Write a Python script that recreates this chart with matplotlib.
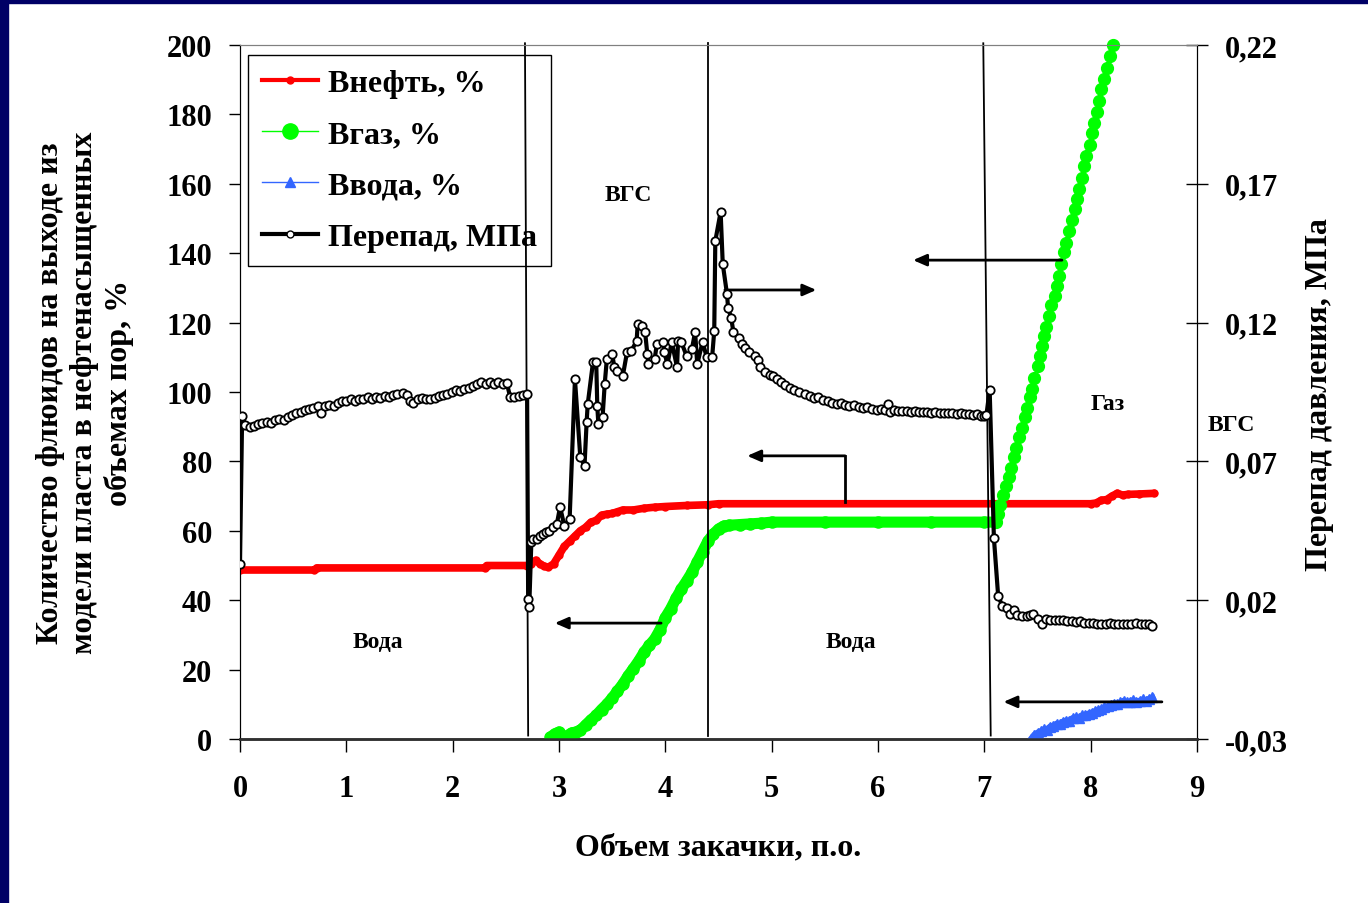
import numpy as np
import matplotlib
matplotlib.use('Agg')
import matplotlib.pyplot as plt
from matplotlib.lines import Line2D
from matplotlib.patches import Rectangle
from matplotlib.ticker import FuncFormatter

# ---------------------------------------------------------------------------
# Data
# ---------------------------------------------------------------------------

# oil recovery, % of pore volume
oil_x = [0.00, 0.70, 0.72, 2.30, 2.32, 2.70, 2.74, 2.78, 2.82, 2.86, 2.90, 2.95,
         3.00, 3.05, 3.10, 3.15, 3.20, 3.25, 3.30, 3.35, 3.40, 3.45, 3.50, 3.55,
         3.60, 3.70, 3.80, 3.90, 4.00, 4.20, 4.40, 4.50, 8.00, 8.05, 8.10, 8.15,
         8.20, 8.25, 8.30, 8.35, 8.45, 8.60]
oil_y = [48.7, 48.7, 49.3, 49.3, 50.0, 50.0, 50.5, 51.5, 50.5, 49.8, 49.5, 50.5,
         53.0, 55.5, 57.0, 58.5, 60.0, 61.0, 62.5, 63.0, 64.5, 64.8, 65.0, 65.5,
         66.0, 66.0, 66.5, 66.8, 67.0, 67.3, 67.5, 67.8, 67.8, 68.0, 68.8, 69.0,
         70.0, 70.8, 70.3, 70.5, 70.6, 70.8]

# gas recovery, first part (dense points, looks like a band)
gas_x = [2.92, 2.96, 3.00, 3.04, 3.08, 3.12, 3.16, 3.20, 3.25, 3.30, 3.35, 3.40,
         3.45, 3.50, 3.55, 3.60, 3.65, 3.70, 3.75, 3.80, 3.85, 3.90, 3.95, 4.00,
         4.05, 4.10, 4.15, 4.20, 4.25, 4.30, 4.35, 4.40, 4.45, 4.50, 4.55, 4.60,
         4.70, 4.80, 4.90, 5.00, 5.50, 6.00, 6.50, 7.00, 7.10]
gas_y = [0.5, 1.5, 2.0, 0.5, 1.0, 1.8, 2.0, 2.5, 4.0, 5.5, 6.8, 8.5,
         10.0, 11.8, 13.8, 15.8, 18.2, 20.3, 22.5, 25.0, 27.0, 28.8, 31.5, 35.0,
         37.5, 40.5, 43.2, 45.5, 48.0, 51.0, 54.0, 57.0, 59.0, 60.5, 61.4, 61.6,
         61.8, 62.0, 62.2, 62.5, 62.5, 62.5, 62.5, 62.5, 62.5]

# gas recovery, gas injection stage (separate dots)
gas2_x = [7.11, 7.13, 7.15, 7.18, 7.20, 7.23, 7.25, 7.28, 7.30, 7.33, 7.35, 7.38,
          7.40, 7.43, 7.45, 7.47, 7.50, 7.52, 7.54, 7.56, 7.58, 7.61, 7.63, 7.66,
          7.68, 7.70, 7.72, 7.75, 7.77, 7.80, 7.82, 7.85, 7.87, 7.89, 7.92, 7.94,
          7.96, 7.99, 8.01, 8.03, 8.06, 8.08, 8.10, 8.13, 8.15, 8.18, 8.21]
gas2_y = [62.5, 64.8, 67.5, 70.2, 72.8, 75.6, 78.0, 81.2, 84.0, 87.0, 89.6, 92.8,
          95.4, 98.5, 101.0, 104.0, 107.5, 110.5, 113.2, 116.0, 118.7, 122.0, 125.0, 127.8,
          130.5, 133.5, 136.8, 140.3, 143.0, 146.5, 149.5, 152.7, 155.5, 158.5, 161.8, 165.0,
          168.0, 171.2, 174.5, 177.5, 180.8, 184.0, 187.2, 190.2, 193.5, 196.8, 200.0]

# water recovery
water_x = [7.44, 7.47, 7.50, 7.53, 7.56, 7.59, 7.62, 7.65, 7.68, 7.71, 7.74, 7.77,
           7.80, 7.83, 7.86, 7.89, 7.92, 7.95, 7.98, 8.01, 8.04, 8.07, 8.10, 8.13,
           8.16, 8.19, 8.22, 8.25, 8.28, 8.31, 8.34, 8.37, 8.40, 8.43, 8.46, 8.49,
           8.52, 8.55, 8.58]
water_y = [0.0, 1.2, 1.8, 2.2, 2.8, 2.6, 3.6, 3.8, 4.4, 4.2, 5.0, 5.3,
           5.2, 6.0, 6.2, 6.0, 6.8, 7.0, 7.3, 7.6, 8.0, 8.4, 8.6, 9.2,
           9.4, 9.8, 10.2, 10.0, 10.6, 11.0, 10.6, 10.8, 11.2, 10.8, 11.0, 11.4,
           11.0, 11.6, 12.0]

# pressure drop, MPa
dp_x = [0.00, 0.02, 0.05, 0.09, 0.13, 0.17, 0.21, 0.25, 0.29, 0.33, 0.37, 0.41,
        0.45, 0.49, 0.53, 0.57, 0.61, 0.65, 0.69, 0.73, 0.76, 0.80, 0.84, 0.88,
        0.92, 0.96, 1.00, 1.04, 1.08, 1.12, 1.16, 1.20, 1.24, 1.28, 1.32, 1.36,
        1.40, 1.44, 1.48, 1.53, 1.57, 1.60, 1.63, 1.67, 1.71, 1.75, 1.79, 1.83,
        1.87, 1.91, 1.95, 1.99, 2.03, 2.07, 2.11, 2.15, 2.19, 2.23, 2.27, 2.31,
        2.35, 2.39, 2.43, 2.47, 2.51, 2.54, 2.58, 2.62, 2.66, 2.70, 2.71, 2.72,
        2.74, 2.76, 2.79, 2.82, 2.85, 2.88, 2.91, 2.94, 2.98, 3.01, 3.05, 3.10,
        3.15, 3.20, 3.24, 3.26, 3.27, 3.32, 3.35, 3.36, 3.37, 3.41, 3.43, 3.45,
        3.50, 3.52, 3.55, 3.60, 3.64, 3.68, 3.73, 3.74, 3.78, 3.81, 3.83, 3.84,
        3.90, 3.92, 3.98, 3.99, 4.02, 4.06, 4.11, 4.12, 4.15, 4.20, 4.25, 4.28,
        4.30, 4.35, 4.39, 4.44, 4.46, 4.47, 4.52, 4.54, 4.58, 4.59, 4.62, 4.64,
        4.69, 4.72, 4.75, 4.79, 4.84, 4.87, 4.89, 4.94, 4.98, 5.01, 5.05, 5.09,
        5.13, 5.17, 5.21, 5.26, 5.31, 5.36, 5.40, 5.44, 5.48, 5.53, 5.57, 5.61,
        5.65, 5.69, 5.73, 5.77, 5.82, 5.86, 5.90, 5.94, 5.99, 6.03, 6.07, 6.09,
        6.11, 6.15, 6.19, 6.23, 6.27, 6.31, 6.35, 6.39, 6.42, 6.46, 6.50, 6.54,
        6.58, 6.62, 6.66, 6.70, 6.74, 6.78, 6.82, 6.86, 6.89, 6.93, 6.97, 7.00,
        7.02, 7.05, 7.09, 7.13, 7.17, 7.21, 7.24, 7.28, 7.31, 7.35, 7.40, 7.43,
        7.46, 7.50, 7.54, 7.58, 7.62, 7.66, 7.70, 7.74, 7.78, 7.82, 7.86, 7.90,
        7.94, 7.98, 8.02, 8.06, 8.10, 8.14, 8.18, 8.22, 8.26, 8.30, 8.34, 8.38,
        8.43, 8.47, 8.51, 8.55, 8.58]
dp_y = [0.0331, 0.0863, 0.0831, 0.0825, 0.0829, 0.0835, 0.0838, 0.0841, 0.0838, 0.0848, 0.0854, 0.0850,
        0.0860, 0.0866, 0.0873, 0.0879, 0.0885, 0.0888, 0.0894, 0.0898, 0.0873, 0.0898, 0.0904, 0.0900,
        0.0910, 0.0916, 0.0916, 0.0923, 0.0919, 0.0923, 0.0925, 0.0931, 0.0923, 0.0931, 0.0929, 0.0935,
        0.0931, 0.0938, 0.0944, 0.0948, 0.0938, 0.0916, 0.0910, 0.0923, 0.0929, 0.0925, 0.0923, 0.0929,
        0.0935, 0.0938, 0.0941, 0.0950, 0.0956, 0.0954, 0.0960, 0.0966, 0.0973, 0.0979, 0.0985, 0.0979,
        0.0985, 0.0979, 0.0985, 0.0979, 0.0981, 0.0933, 0.0933, 0.0935, 0.0938, 0.0943, 0.0204, 0.0175,
        0.0410, 0.0419, 0.0420, 0.0431, 0.0438, 0.0444, 0.0450, 0.0463, 0.0475, 0.0536, 0.0468, 0.0493,
        0.0996, 0.0716, 0.0684, 0.0843, 0.0906, 0.1058, 0.1058, 0.0900, 0.0835, 0.0860, 0.0979, 0.1069,
        0.1088, 0.1040, 0.1025, 0.1008, 0.1094, 0.1098, 0.1134, 0.1195, 0.1188, 0.1166, 0.1088, 0.1050,
        0.1069, 0.1123, 0.1130, 0.1094, 0.1050, 0.1130, 0.1040, 0.1134, 0.1130, 0.1080, 0.1105, 0.1166,
        0.1050, 0.1130, 0.1075, 0.1075, 0.1170, 0.1494, 0.1599, 0.1411, 0.1303, 0.1253, 0.1216, 0.1166,
        0.1145, 0.1123, 0.1109, 0.1094, 0.1080, 0.1065, 0.1040, 0.1023, 0.1013, 0.1008, 0.0998, 0.0986,
        0.0975, 0.0965, 0.0958, 0.0950, 0.0943, 0.0935, 0.0928, 0.0931, 0.0921, 0.0916, 0.0910, 0.0906,
        0.0910, 0.0904, 0.0900, 0.0903, 0.0895, 0.0893, 0.0895, 0.0888, 0.0885, 0.0888, 0.0886, 0.0906,
        0.0878, 0.0885, 0.0881, 0.0883, 0.0881, 0.0878, 0.0881, 0.0879, 0.0878, 0.0879, 0.0875, 0.0878,
        0.0874, 0.0875, 0.0873, 0.0874, 0.0871, 0.0873, 0.0869, 0.0870, 0.0868, 0.0869, 0.0865, 0.0864,
        0.0868, 0.0958, 0.0424, 0.0215, 0.0179, 0.0173, 0.0150, 0.0165, 0.0146, 0.0144, 0.0143, 0.0145,
        0.0150, 0.0131, 0.0114, 0.0133, 0.0128, 0.0130, 0.0128, 0.0129, 0.0124, 0.0126, 0.0120, 0.0124,
        0.0119, 0.0118, 0.0119, 0.0114, 0.0116, 0.0114, 0.0118, 0.0113, 0.0116, 0.0114, 0.0115, 0.0113,
        0.0118, 0.0113, 0.0115, 0.0113, 0.0108]

x_ticks = [0, 1, 2, 3, 4, 5, 6, 7, 8, 9]
left_ticks = list(range(0, 201, 20))
right_ticks = [-0.03, 0.02, 0.07, 0.12, 0.17, 0.22]

legend_labels = ['Внефть, %', 'Вгаз, %', 'Ввода, %', 'Перепад, МПа']

# stage boundaries (slightly tilted lines): (x_top, x_bottom)
boundaries = [(2.68, 2.71), (4.40, 4.40), (6.99, 7.06)]

# arrows: (x_from, y_from, x_to, y_to) in left-axis units
arrows = [(4.56, 129.4, 5.42, 129.4),
          (7.73, 138.0, 6.33, 138.0),
          (5.69, 81.6, 4.77, 81.6),
          (3.96, 33.4, 2.96, 33.4),
          (8.67, 10.7, 7.18, 10.7)]

stage_labels = [('ВГС', 3.65, 156.8), ('Вода', 1.30, 28.2), ('Вода', 5.75, 28.2),
                ('Газ', 8.16, 96.8), ('ВГС', 9.32, 90.5)]

# ---------------------------------------------------------------------------
# Plot
# ---------------------------------------------------------------------------

FONT = 'Liberation Serif'
plt.rcParams['font.family'] = [FONT, 'DejaVu Serif']
plt.rcParams['font.weight'] = 'bold'

RED = '#ff0000'
GREEN = '#00ff00'
BLUE = '#3366ff'

fig = plt.figure(figsize=(13.68, 9.04), dpi=100)
fig.patch.set_facecolor('white')
# navy slide border (left and top)
fig.patches.append(Rectangle((0, 0), 8 / 1368, 1, transform=fig.transFigure,
                             color='#000066', zorder=10))
fig.patches.append(Rectangle((0, 1 - 4 / 904), 1, 4 / 904, transform=fig.transFigure,
                             color='#000066', zorder=10))

ax = fig.add_axes([240 / 1368, 1 - 740 / 904, 957 / 1368, 694 / 904])
ax2 = ax.twinx()

ax.set_xlim(0, 9)
ax.set_ylim(0, 200)
ax2.set_ylim(-0.03, 0.22)

ax.plot(oil_x, oil_y, color=RED, lw=5.5, marker='o', ms=5, zorder=3,
        solid_capstyle='round')
ax.plot(gas_x, gas_y, color=GREEN, lw=8, marker='o', ms=8, zorder=3,
        solid_capstyle='round')
ax.plot(gas2_x, gas2_y, color=GREEN, lw=1, marker='o', ms=8.5, zorder=3, clip_on=False)
ax.plot(water_x, water_y, color=BLUE, lw=4.5, marker='^', ms=6.5, zorder=3)

ax2.plot(dp_x, dp_y, color='black', lw=3, marker='o', ms=6,
         mfc='white', mec='black', mew=1.3, zorder=4)

for xt, xb in boundaries:
    ax.plot([xt, xb], [200.5, 1], color='black', lw=1.3, zorder=6, clip_on=False)

arrow_kw = dict(arrowstyle='-|>,head_length=0.8,head_width=0.35', color='black',
                lw=2, shrinkA=0, shrinkB=0)
for x0, y0, x1, y1 in arrows:
    ax.annotate('', xy=(x1, y1), xytext=(x0, y0), arrowprops=arrow_kw, zorder=6)
ax.plot([5.69, 5.69], [68.3, 81.6], color='black', lw=2, zorder=6)

for txt, tx, ty in stage_labels:
    ax.text(tx, ty, txt, ha='center', va='center', fontsize=17, fontweight='bold',
            clip_on=False)

# axes styling
ax.set_xticks(x_ticks)
ax.set_yticks(left_ticks)
ax.tick_params(axis='x', direction='out', length=9, width=1, pad=16, labelsize=22)
ax.tick_params(axis='y', direction='out', length=8, width=1, pad=12, labelsize=22)
ax2.set_yticks(right_ticks)
ax2.yaxis.set_major_formatter(FuncFormatter(lambda v, p: f'{v:.2f}'.replace('.', ',')))
ax2.tick_params(axis='y', direction='inout', length=16, width=1, pad=12, labelsize=22)
for lab in ax.get_xticklabels() + ax.get_yticklabels() + ax2.get_yticklabels():
    lab.set_fontweight('bold')

for a in (ax, ax2):
    a.spines['top'].set_color('#808080')
    a.spines['bottom'].set_color('#303030')
    a.spines['bottom'].set_linewidth(1.8)
    a.spines['left'].set_color('black')
    a.spines['right'].set_color('black')

# legend
handles = [
    Line2D([], [], color=RED, lw=3, marker='o', ms=5),
    Line2D([], [], color=GREEN, lw=1, marker='o', ms=11),
    Line2D([], [], color=BLUE, lw=1, marker='^', ms=7),
    Line2D([], [], color='black', lw=3, marker='o', ms=5, mfc='white', mec='black'),
]
leg = ax.legend(handles, legend_labels, loc='upper left', bbox_to_anchor=(0.008, 0.986),
                borderaxespad=0, handlelength=1.75, handletextpad=0.3,
                labelspacing=0.68, borderpad=0.45, fancybox=False, framealpha=1,
                edgecolor='black', prop={'weight': 'bold', 'size': 23, 'family': FONT})
leg.get_frame().set_linewidth(1)
leg.set_zorder(5)

# axis titles
fig.text(85 / 1368, 1 - 393 / 904,
         'Количество флюидов на выходе из\nмодели пласта в нефтенасыщенных\nобъемах пор, %',
         rotation=90, ha='center', va='center', ma='center', fontsize=23,
         fontweight='bold', linespacing=1.22)
fig.text(1320 / 1368, 1 - 395 / 904, 'Перепад давления, МПа', rotation=90,
         ha='center', va='center', fontsize=23, fontweight='bold')
fig.text(718 / 1368, 1 - 848 / 904, 'Объем закачки, п.о.', ha='center', va='center',
         fontsize=23, fontweight='bold')

fig.savefig('out.png', dpi=100)
